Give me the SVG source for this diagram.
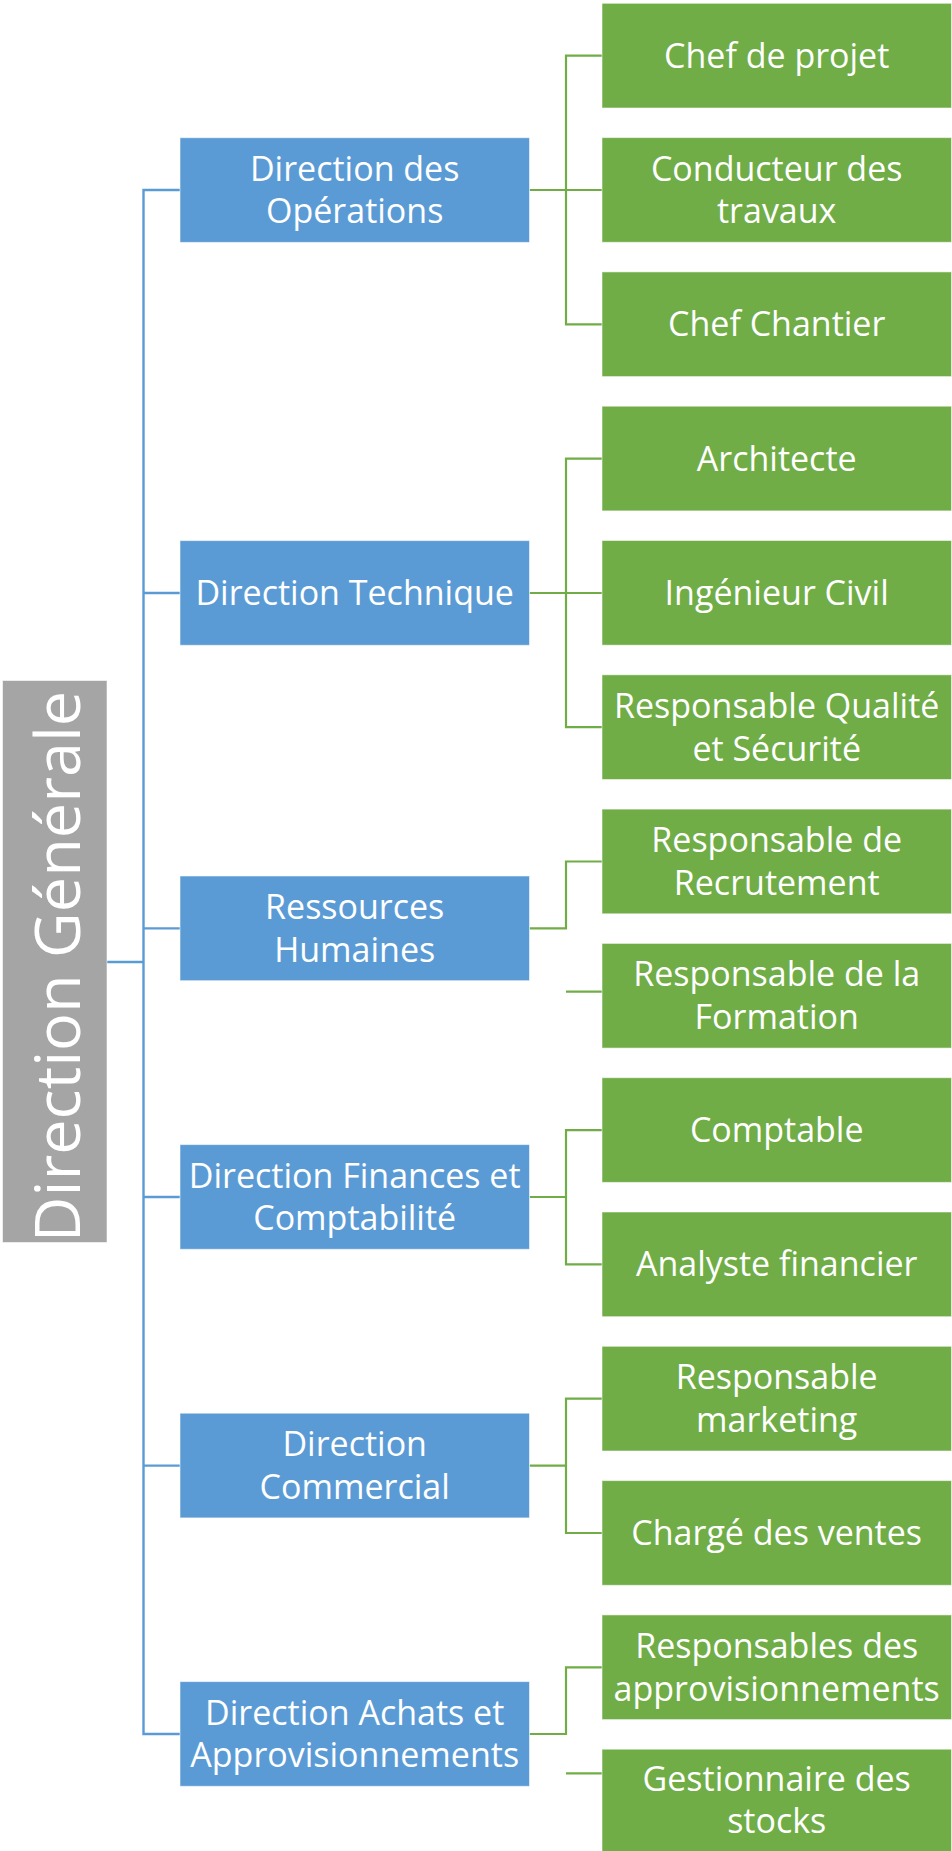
<svg xmlns="http://www.w3.org/2000/svg" width="952" height="1851" viewBox="0 0 952 1851">
  <style>
    .box { stroke: #ffffff; stroke-opacity: 0.55; stroke-width: 1; }
    .gray { fill: #A5A5A5; }
    .blue { fill: #5B9BD5; }
    .green { fill: #70AD47; }
    .lbl { font-family: "Open Sans", "Noto Sans", "Liberation Sans", sans-serif; font-size: 34px; fill: #ffffff; text-anchor: middle; }
    .root { font-family: "Open Sans", "Noto Sans", "Liberation Sans", sans-serif; font-size: 63px; font-weight: 400; fill: #ffffff; text-anchor: middle; }
    .lb { fill: none; stroke: #5B9BD5; stroke-width: 2.4; }
    .lg { fill: none; stroke: #70AD47; stroke-width: 2.2; }
  </style>
  <rect width="952" height="1851" fill="#ffffff"/>

  <!-- connectors -->
  <g id="connectors">
    <!-- root to department trunk -->
    <path class="lb" d="M107 962 H143.5"/>
    <path class="lb" d="M180 190 H143.5 V1734 H180"/>
    <path class="lb" d="M143.5 593 H180"/>
    <path class="lb" d="M143.5 928.4 H180"/>
    <path class="lb" d="M143.5 1197 H180"/>
    <path class="lb" d="M143.5 1465.6 H180"/>
    <!-- Direction des Opérations -->
    <path class="lg" d="M529.5 190 H602"/>
    <path class="lg" d="M602 55.6 H566 V324.3 H602"/>
    <!-- Direction Technique -->
    <path class="lg" d="M529.5 593 H602"/>
    <path class="lg" d="M602 458.6 H566 V727.2 H602"/>
    <!-- Ressources Humaines -->
    <path class="lg" d="M529.5 928.4 H566 V861.5 H602"/>
    <path class="lg" d="M566 991.7 H602"/>
    <!-- Direction Finances et Comptabilité -->
    <path class="lg" d="M529.5 1197 H566"/>
    <path class="lg" d="M602 1130.1 H566 V1264.4 H602"/>
    <!-- Direction Commercial -->
    <path class="lg" d="M529.5 1465.6 H566"/>
    <path class="lg" d="M602 1398.7 H566 V1533 H602"/>
    <!-- Direction Achats et Approvisionnements -->
    <path class="lg" d="M529.5 1734 H566 V1667.3 H602"/>
    <path class="lg" d="M566 1773.3 H602"/>
  </g>

  <!-- root -->
  <g id="direction-generale">
    <rect class="box gray" x="2.5" y="680.5" width="104.5" height="562"/>
    <text class="root" transform="translate(80 966.5) rotate(-90)" x="0" y="0">Direction Générale</text>
  </g>

  <!-- departments -->
  <g id="dir-operations">
    <rect class="box blue" x="180" y="137.7" width="349.5" height="104.7"/>
    <text class="lbl" x="354.7" y="180.6">Direction des</text>
    <text class="lbl" x="354.7" y="223.3">Opérations</text>
  </g>
  <g id="dir-technique">
    <rect class="box blue" x="180" y="540.6" width="349.5" height="104.7"/>
    <text class="lbl" x="354.7" y="605">Direction Technique</text>
  </g>
  <g id="ressources-humaines">
    <rect class="box blue" x="180" y="876" width="349.5" height="104.7"/>
    <text class="lbl" x="354.7" y="919">Ressources</text>
    <text class="lbl" x="354.7" y="961.7">Humaines</text>
  </g>
  <g id="dir-finances">
    <rect class="box blue" x="180" y="1144.6" width="349.5" height="104.7"/>
    <text class="lbl" x="354.7" y="1187.6">Direction Finances et</text>
    <text class="lbl" x="354.7" y="1230.3">Comptabilité</text>
  </g>
  <g id="dir-commercial">
    <rect class="box blue" x="180" y="1413.2" width="349.5" height="104.7"/>
    <text class="lbl" x="354.7" y="1456.2">Direction</text>
    <text class="lbl" x="354.7" y="1498.9">Commercial</text>
  </g>
  <g id="dir-achats">
    <rect class="box blue" x="180" y="1681.6" width="349.5" height="104.7"/>
    <text class="lbl" x="354.7" y="1724.6">Direction Achats et</text>
    <text class="lbl" x="354.7" y="1767.3">Approvisionnements</text>
  </g>

  <!-- positions -->
  <g id="chef-projet">
    <rect class="box green" x="602" y="3.3" width="349.5" height="104.7"/>
    <text class="lbl" x="776.7" y="67.7">Chef de projet</text>
  </g>
  <g id="conducteur-travaux">
    <rect class="box green" x="602" y="137.6" width="349.5" height="104.7"/>
    <text class="lbl" x="776.7" y="180.6">Conducteur des</text>
    <text class="lbl" x="776.7" y="223.3">travaux</text>
  </g>
  <g id="chef-chantier">
    <rect class="box green" x="602" y="271.9" width="349.5" height="104.7"/>
    <text class="lbl" x="776.7" y="336.3">Chef Chantier</text>
  </g>
  <g id="architecte">
    <rect class="box green" x="602" y="406.2" width="349.5" height="104.7"/>
    <text class="lbl" x="776.7" y="470.6">Architecte</text>
  </g>
  <g id="ingenieur-civil">
    <rect class="box green" x="602" y="540.5" width="349.5" height="104.7"/>
    <text class="lbl" x="776.7" y="604.9">Ingénieur Civil</text>
  </g>
  <g id="resp-qualite">
    <rect class="box green" x="602" y="674.8" width="349.5" height="104.7"/>
    <text class="lbl" x="776.7" y="717.8">Responsable Qualité</text>
    <text class="lbl" x="776.7" y="760.5">et Sécurité</text>
  </g>
  <g id="resp-recrutement">
    <rect class="box green" x="602" y="809.1" width="349.5" height="104.7"/>
    <text class="lbl" x="776.7" y="852.1">Responsable de</text>
    <text class="lbl" x="776.7" y="894.8">Recrutement</text>
  </g>
  <g id="resp-formation">
    <rect class="box green" x="602" y="943.4" width="349.5" height="104.7"/>
    <text class="lbl" x="776.7" y="986.4">Responsable de la</text>
    <text class="lbl" x="776.7" y="1029.1">Formation</text>
  </g>
  <g id="comptable">
    <rect class="box green" x="602" y="1077.7" width="349.5" height="104.7"/>
    <text class="lbl" x="776.7" y="1142.1">Comptable</text>
  </g>
  <g id="analyste-financier">
    <rect class="box green" x="602" y="1212" width="349.5" height="104.7"/>
    <text class="lbl" x="776.7" y="1276.4">Analyste financier</text>
  </g>
  <g id="resp-marketing">
    <rect class="box green" x="602" y="1346.3" width="349.5" height="104.7"/>
    <text class="lbl" x="776.7" y="1389.3">Responsable</text>
    <text class="lbl" x="776.7" y="1432">marketing</text>
  </g>
  <g id="charge-ventes">
    <rect class="box green" x="602" y="1480.6" width="349.5" height="104.7"/>
    <text class="lbl" x="776.7" y="1545">Chargé des ventes</text>
  </g>
  <g id="resp-approvisionnements">
    <rect class="box green" x="602" y="1614.9" width="349.5" height="104.7"/>
    <text class="lbl" x="776.7" y="1657.9">Responsables des</text>
    <text class="lbl" x="776.7" y="1700.6">approvisionnements</text>
  </g>
  <g id="gestionnaire-stocks">
    <rect class="box green" x="602" y="1749.2" width="349.5" height="104.7"/>
    <text class="lbl" x="776.7" y="1790.5">Gestionnaire des</text>
    <text class="lbl" x="776.7" y="1833.2">stocks</text>
  </g>
</svg>
